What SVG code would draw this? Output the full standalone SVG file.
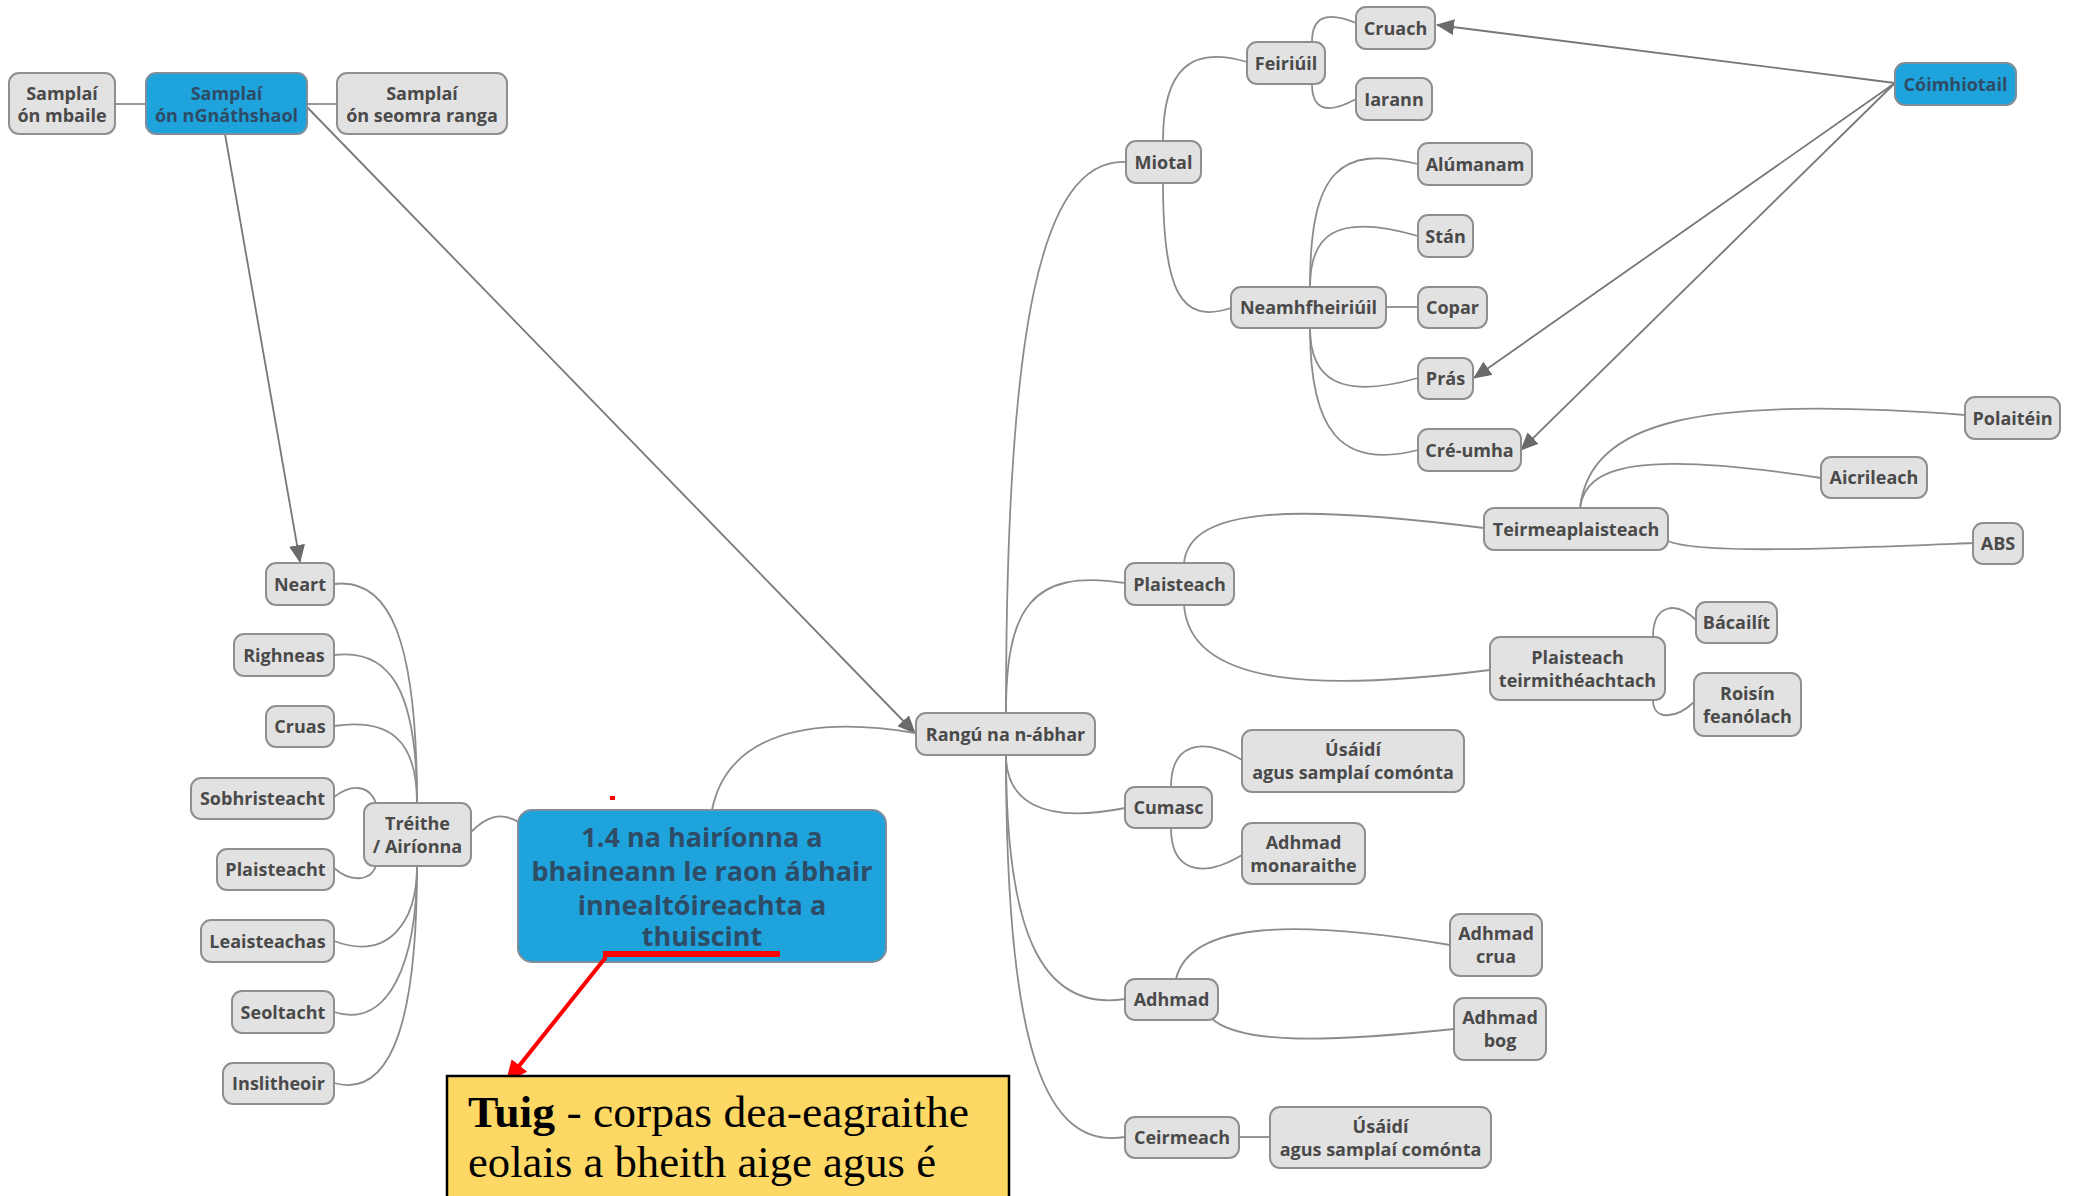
<svg xmlns="http://www.w3.org/2000/svg" width="2079" height="1196" viewBox="0 0 2079 1196">
<style>
.n rect{fill:#e2e2e2;stroke:#8f8f8f;stroke-width:2}
.b rect{fill:#1ea3dd;stroke:#7f8e99;stroke-width:2}
text{font-family:"Open Sans","Noto Sans",sans-serif;font-weight:700;font-size:18px;text-anchor:middle;fill:#4a4a4a}
.b text{fill:#2f4c66}
.c path,.c line{fill:none;stroke:#8c8c8c;stroke-width:1.8}
.c .a{stroke:#777;marker-end:url(#ah)}
.big{font-size:27px;fill:#3d4a55}
.y text{font-family:"Liberation Serif","Times New Roman",serif;font-weight:400;font-size:45px;text-anchor:start;fill:#000}
</style>
<defs>
<marker id="ah" markerUnits="userSpaceOnUse" markerWidth="18" markerHeight="16" viewBox="0 0 18 16" refX="17" refY="8" orient="auto"><path d="M0,0 L18,8 L0,16 z" fill="#6b6b6b"/></marker>
<marker id="rh" markerUnits="userSpaceOnUse" markerWidth="22" markerHeight="20" viewBox="0 0 22 20" refX="20" refY="10" orient="auto"><path d="M0,0 L22,10 L0,20 z" fill="#ff0000"/></marker>
</defs>
<rect width="2079" height="1196" fill="#fff"/>
<g class="c" id="connectors">
<line x1="115" y1="104" x2="146" y2="104"/>
<line x1="307" y1="104" x2="337" y2="104"/>
<line class="a" x1="225" y1="134" x2="300" y2="562"/>
<line class="a" x1="306" y1="106" x2="915" y2="733"/>
<line class="a" x1="1895" y1="83" x2="1437" y2="25"/>
<line class="a" x1="1895" y1="83" x2="1474" y2="378"/>
<line class="a" x1="1895" y1="83" x2="1521" y2="450"/>
<path d="M712 810 C725 745,790 712,915 733"/>
<path d="M1006 713 C1006 330,1040 158,1126 162"/>
<path d="M1006 713 C1006 610,1030 568,1125 583"/>
<path d="M1006 755 C1006 800,1040 825,1125 808"/>
<path d="M1006 755 C1006 930,1040 1012,1125 999"/>
<path d="M1006 755 C1006 1050,1045 1150,1125 1137"/>
<path d="M1163 141 C1163 70,1190 45,1247 62"/>
<path d="M1163 183 C1163 290,1180 325,1231 308"/>
<path d="M1312 42 C1312 18,1325 10,1356 23"/>
<path d="M1312 84 C1312 108,1325 116,1356 99"/>
<path d="M1310 287 C1310 170,1340 145,1418 164"/>
<path d="M1310 287 C1310 235,1335 212,1418 236"/>
<line x1="1386" y1="307" x2="1418" y2="307"/>
<path d="M1310 328 C1310 380,1340 400,1418 378"/>
<path d="M1310 328 C1310 430,1340 470,1418 450"/>
<path d="M1184 563 C1190 505,1300 505,1484 528"/>
<path d="M1184 605 C1190 690,1330 690,1490 670"/>
<path d="M1580 508 C1590 420,1700 395,1965 415"/>
<path d="M1580 508 C1585 465,1640 450,1821 478"/>
<path d="M1668 541 C1700 555,1850 548,1973 543"/>
<path d="M1653 637 C1653 605,1675 600,1696 620"/>
<path d="M1653 700 C1653 720,1675 720,1694 702"/>
<path d="M1171 787 C1171 745,1200 735,1242 760"/>
<path d="M1171 828 C1171 870,1200 880,1242 855"/>
<path d="M1176 979 C1190 920,1300 920,1450 945"/>
<path d="M1211 1018 C1240 1045,1330 1042,1454 1029"/>
<line x1="1239" y1="1137" x2="1270" y2="1137"/>
<path d="M471 832 C485 818,500 810,520 823"/>
<path d="M417 803 C417 640,390 577,334 584"/>
<path d="M417 803 C417 690,390 648,334 655"/>
<path d="M417 803 C417 740,390 718,334 726"/>
<path d="M334 797 C350 785,368 783,376 803"/>
<path d="M334 868 C350 882,370 882,376 866"/>
<path d="M417 866 C417 920,390 962,334 941"/>
<path d="M417 866 C417 960,390 1030,334 1012"/>
<path d="M417 866 C417 1010,395 1100,334 1083"/>
</g>
<g class="n" id="n-mbaile"><rect x="9" y="73" width="106" height="61" rx="10"/><text x="62" y="99.5">Samplaí</text><text x="62" y="121.5">ón mbaile</text></g>
<g class="b" id="n-gnath"><rect x="146" y="73" width="161" height="61" rx="10"/><text x="226.5" y="99.5">Samplaí</text><text x="226.5" y="121.5">ón nGnáthshaol</text></g>
<g class="n" id="n-seomra"><rect x="337" y="73" width="170" height="61" rx="10"/><text x="422" y="99.5">Samplaí</text><text x="422" y="121.5">ón seomra ranga</text></g>
<g class="n" id="n-cruach"><rect x="1356" y="7" width="79" height="42" rx="10"/><text x="1395.5" y="34.5">Cruach</text></g>
<g class="n" id="n-feiriuil"><rect x="1247" y="42" width="78" height="42" rx="10"/><text x="1286" y="69.5">Feiriúil</text></g>
<g class="n" id="n-iarann"><rect x="1356" y="78" width="76" height="42" rx="10"/><text x="1394" y="105.5">Iarann</text></g>
<g class="b" id="n-coimhiotail"><rect x="1895" y="63" width="121" height="42" rx="10"/><text x="1955.5" y="90.5">Cóimhiotail</text></g>
<g class="n" id="n-miotal"><rect x="1126" y="141" width="75" height="42" rx="10"/><text x="1163.5" y="168.5">Miotal</text></g>
<g class="n" id="n-alumanam"><rect x="1418" y="143" width="114" height="42" rx="10"/><text x="1475" y="170.5">Alúmanam</text></g>
<g class="n" id="n-stan"><rect x="1418" y="215" width="55" height="42" rx="10"/><text x="1445.5" y="242.5">Stán</text></g>
<g class="n" id="n-neamh"><rect x="1231" y="287" width="155" height="41" rx="10"/><text x="1308.5" y="314">Neamhfheiriúil</text></g>
<g class="n" id="n-copar"><rect x="1418" y="287" width="69" height="41" rx="10"/><text x="1452.5" y="314">Copar</text></g>
<g class="n" id="n-pras"><rect x="1418" y="358" width="55" height="41" rx="10"/><text x="1445.5" y="385">Prás</text></g>
<g class="n" id="n-creumha"><rect x="1418" y="429" width="103" height="42" rx="10"/><text x="1469.5" y="456.5">Cré-umha</text></g>
<g class="n" id="n-polaitein"><rect x="1965" y="397" width="95" height="42" rx="10"/><text x="2012.5" y="424.5">Polaitéin</text></g>
<g class="n" id="n-aicrileach"><rect x="1821" y="457" width="106" height="41" rx="10"/><text x="1874" y="484">Aicrileach</text></g>
<g class="n" id="n-teirmea"><rect x="1484" y="508" width="184" height="42" rx="10"/><text x="1576" y="535.5">Teirmeaplaisteach</text></g>
<g class="n" id="n-abs"><rect x="1973" y="523" width="50" height="41" rx="10"/><text x="1998" y="550">ABS</text></g>
<g class="n" id="n-plaisteach"><rect x="1125" y="563" width="109" height="42" rx="10"/><text x="1179.5" y="590.5">Plaisteach</text></g>
<g class="n" id="n-bacailit"><rect x="1696" y="602" width="81" height="41" rx="10"/><text x="1736.5" y="629">Bácailít</text></g>
<g class="n" id="n-pteirm"><rect x="1490" y="637" width="175" height="63" rx="10"/><text x="1577.5" y="663.5">Plaisteach</text><text x="1577.5" y="686.5">teirmithéachtach</text></g>
<g class="n" id="n-roisin"><rect x="1694" y="673" width="107" height="63" rx="10"/><text x="1747.5" y="699.5">Roisín</text><text x="1747.5" y="722.5">feanólach</text></g>
<g class="n" id="n-rangu"><rect x="916" y="713" width="179" height="42" rx="10"/><text x="1005.5" y="740.5">Rangú na n-ábhar</text></g>
<g class="n" id="n-usaidi1"><rect x="1242" y="730" width="222" height="62" rx="10"/><text x="1353" y="756">Úsáidí</text><text x="1353" y="779">agus samplaí comónta</text></g>
<g class="n" id="n-cumasc"><rect x="1125" y="787" width="87" height="41" rx="10"/><text x="1168.5" y="814">Cumasc</text></g>
<g class="n" id="n-monaraithe"><rect x="1242" y="823" width="123" height="61" rx="10"/><text x="1303.5" y="848.5">Adhmad</text><text x="1303.5" y="871.5">monaraithe</text></g>
<g class="n" id="n-crua"><rect x="1450" y="914" width="92" height="62" rx="10"/><text x="1496" y="940">Adhmad</text><text x="1496" y="963">crua</text></g>
<g class="n" id="n-adhmad"><rect x="1125" y="979" width="93" height="41" rx="10"/><text x="1171.5" y="1006">Adhmad</text></g>
<g class="n" id="n-bog"><rect x="1454" y="998" width="92" height="62" rx="10"/><text x="1500" y="1024">Adhmad</text><text x="1500" y="1047">bog</text></g>
<g class="n" id="n-ceirmeach"><rect x="1125" y="1117" width="114" height="41" rx="10"/><text x="1182" y="1144">Ceirmeach</text></g>
<g class="n" id="n-usaidi2"><rect x="1270" y="1107" width="221" height="61" rx="10"/><text x="1380.5" y="1132.5">Úsáidí</text><text x="1380.5" y="1155.5">agus samplaí comónta</text></g>
<g class="n" id="n-neart"><rect x="266" y="563" width="68" height="42" rx="10"/><text x="300" y="590.5">Neart</text></g>
<g class="n" id="n-righneas"><rect x="234" y="634" width="100" height="42" rx="10"/><text x="284" y="661.5">Righneas</text></g>
<g class="n" id="n-cruas"><rect x="266" y="706" width="68" height="41" rx="10"/><text x="300" y="733">Cruas</text></g>
<g class="n" id="n-sobhr"><rect x="191" y="778" width="143" height="41" rx="10"/><text x="262.5" y="805">Sobhristeacht</text></g>
<g class="n" id="n-plaisteacht"><rect x="217" y="849" width="117" height="41" rx="10"/><text x="275.5" y="876">Plaisteacht</text></g>
<g class="n" id="n-leaist"><rect x="201" y="920" width="133" height="42" rx="10"/><text x="267.5" y="947.5">Leaisteachas</text></g>
<g class="n" id="n-seoltacht"><rect x="232" y="991" width="102" height="42" rx="10"/><text x="283" y="1018.5">Seoltacht</text></g>
<g class="n" id="n-inslitheoir"><rect x="223" y="1063" width="111" height="41" rx="10"/><text x="278.5" y="1090">Inslitheoir</text></g>
<g class="n" id="n-treithe"><rect x="364" y="803" width="107" height="63" rx="10"/><text x="417.5" y="829.5">Tréithe</text><text x="417.5" y="852.5">/ Airíonna</text></g>
<g class="b" id="n-central"><rect x="518" y="810" width="368" height="152" rx="14"/><text class="big" x="702" y="846.5">1.4 na hairíonna a</text><text class="big" x="702" y="880.5">bhaineann le raon ábhair</text><text class="big" x="702" y="914.5">innealtóireachta a</text><text class="big" x="702" y="946">thuiscint</text></g>
<g id="annotation">
<rect x="603" y="951" width="177" height="6" fill="#ff0000"/>
<rect x="610" y="796" width="5" height="4" fill="#ff0000"/>
<line x1="606" y1="957" x2="507" y2="1081" stroke="#ff0000" stroke-width="4" marker-end="url(#rh)"/>
</g>
<g class="y" id="n-tuig"><rect x="447" y="1076" width="562" height="130" fill="#fed865" stroke="#000" stroke-width="2.5"/><text x="468" y="1127" textLength="501" lengthAdjust="spacingAndGlyphs"><tspan font-weight="700">Tuig</tspan> - corpas dea-eagraithe</text><text x="468" y="1177" textLength="468" lengthAdjust="spacingAndGlyphs">eolais a bheith aige agus é</text></g>
</svg>
